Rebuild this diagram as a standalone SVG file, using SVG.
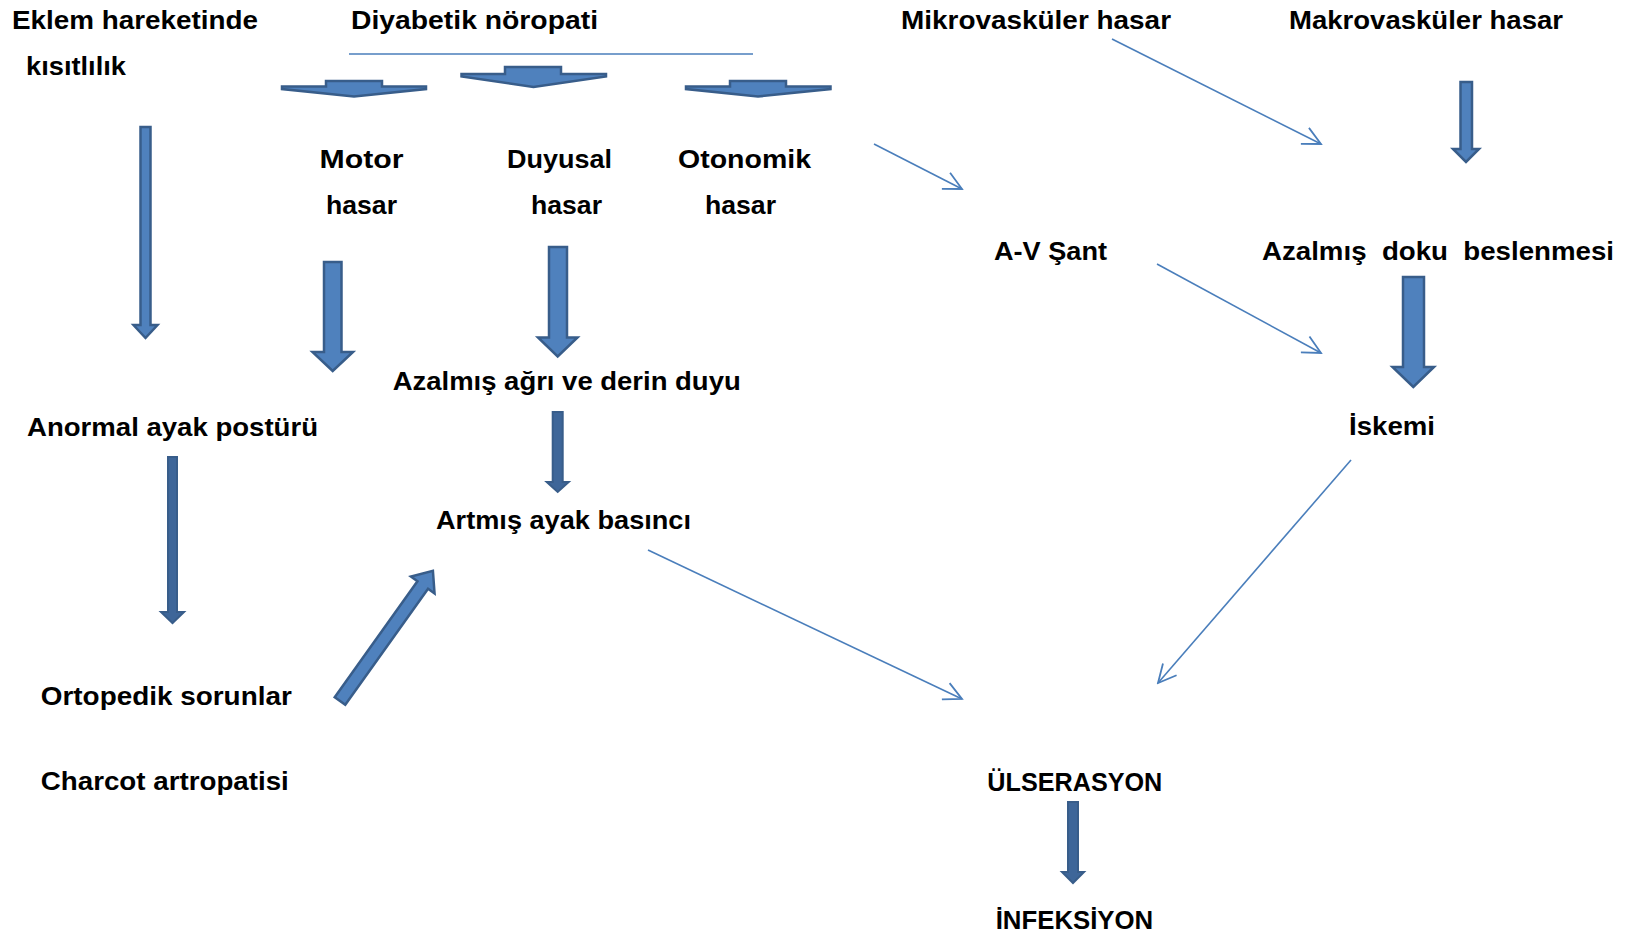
<svg xmlns="http://www.w3.org/2000/svg" width="1626" height="936" viewBox="0 0 1626 936">
<style>
text{font-family:"Liberation Sans",Arial,sans-serif;font-weight:bold;font-size:25px;fill:#000;}
.thin{fill:none;stroke:#4a7ebb;stroke-width:1.6;}
.blk{fill:#4f81bd;stroke:#385d8a;stroke-width:2.5;stroke-linejoin:miter;}
.nar{fill:#3e6699;stroke:#385d8a;stroke-width:2;}
.flat{fill:#4f81bd;stroke:#385d8a;stroke-width:2.5;}
</style>
<defs>
<marker id="open" viewBox="0 0 22 20" markerWidth="22" markerHeight="20" refX="20" refY="10" orient="auto" markerUnits="userSpaceOnUse">
<path d="M2,1 L20,10 L2,19" fill="none" stroke="#4a7ebb" stroke-width="1.8"/>
</marker>
</defs>
<rect width="1626" height="936" fill="#fff"/>
<g id="connectors">
<line class="thin" x1="349" y1="54" x2="753" y2="54"/>
<polygon class="flat" points="326,81 382,81 382,86.5 426,86.5 426,89 354,96.5 282,89 282,86.5 326,86.5"/>
<polygon class="flat" points="505,67 561,67 561,74 606,74 606,76.5 533.5,87 461.5,76.5 461.5,74 505,74"/>
<polygon class="flat" points="730,81 786,81 786,86.5 830.5,86.5 830.5,89 758,96.5 686,89 686,86.5 730,86.5"/>
<polygon class="blk" points="140.5,127 150.5,127 150.5,325 157.5,325 145.5,338 133.5,325 140.5,325"/>
<polygon class="blk" points="324,262 341.5,262 341.5,352 353,352 332.7,371 312.5,352 324,352"/>
<polygon class="blk" points="549,247 567,247 567,337.5 577.5,337.5 557.7,356.5 538,337.5 549,337.5"/>
<polygon class="nar" points="552.7,412 562.7,412 562.7,482 568.7,482 557.7,492 546.7,482 552.7,482"/>
<polygon class="nar" points="168,457 177,457 177,612 184,612 172.5,623 161,612 168,612"/>
<polygon class="blk" points="1460.5,82 1472,82 1472,149 1479,149 1466,162 1453,149 1460.5,149"/>
<polygon class="blk" points="1403,277 1424,277 1424,367 1434,367 1413.3,387 1392.5,367 1403,367"/>
<polygon class="nar" points="1068,802 1078,802 1078,872 1084,872 1073,883 1062,872 1068,872"/>
<polygon class="blk" transform="translate(340,701) rotate(-54.5)" points="0,-6.5 142.5,-6.5 142.5,-14.5 160,0 142.5,14.5 142.5,6.5 0,6.5"/>
<line class="thin" x1="1112" y1="39" x2="1321" y2="144" marker-end="url(#open)"/>
<line class="thin" x1="874" y1="144" x2="962" y2="189" marker-end="url(#open)"/>
<line class="thin" x1="1157" y1="264" x2="1321" y2="353" marker-end="url(#open)"/>
<line class="thin" x1="648" y1="550" x2="962" y2="699" marker-end="url(#open)"/>
<line class="thin" x1="1351" y1="460" x2="1158" y2="683" marker-end="url(#open)"/>
</g>
<g id="eklem"><text x="12" y="29" textLength="246" lengthAdjust="spacingAndGlyphs">Eklem hareketinde</text><text x="26" y="75" textLength="100" lengthAdjust="spacingAndGlyphs">kısıtlılık</text></g>
<g id="diyabetik"><text x="351" y="29" textLength="247" lengthAdjust="spacingAndGlyphs">Diyabetik nöropati</text></g>
<g id="mikro"><text x="901" y="29" textLength="270" lengthAdjust="spacingAndGlyphs">Mikrovasküler hasar</text></g>
<g id="makro"><text x="1289" y="29" textLength="274" lengthAdjust="spacingAndGlyphs">Makrovasküler hasar</text></g>
<g id="motor"><text x="319.5" y="168" textLength="84" lengthAdjust="spacingAndGlyphs">Motor</text><text x="326" y="214" textLength="71" lengthAdjust="spacingAndGlyphs">hasar</text></g>
<g id="duyusal"><text x="507" y="168" textLength="105" lengthAdjust="spacingAndGlyphs">Duyusal</text><text x="531" y="214" textLength="71" lengthAdjust="spacingAndGlyphs">hasar</text></g>
<g id="otonomik"><text x="678" y="168" textLength="133" lengthAdjust="spacingAndGlyphs">Otonomik</text><text x="705" y="214" textLength="71" lengthAdjust="spacingAndGlyphs">hasar</text></g>
<g id="avsant"><text x="994" y="260" textLength="113" lengthAdjust="spacingAndGlyphs">A-V Şant</text></g>
<g id="doku"><text x="1262" y="260" textLength="352" lengthAdjust="spacingAndGlyphs" xml:space="preserve" style="white-space:pre">Azalmış  doku  beslenmesi</text></g>
<g id="agri"><text x="392.7" y="390" textLength="348" lengthAdjust="spacingAndGlyphs">Azalmış ağrı ve derin duyu</text></g>
<g id="anormal"><text x="27" y="436" textLength="291" lengthAdjust="spacingAndGlyphs">Anormal ayak postürü</text></g>
<g id="iskemi"><text x="1349" y="435" textLength="86" lengthAdjust="spacingAndGlyphs">İskemi</text></g>
<g id="artmis"><text x="436" y="529" textLength="255" lengthAdjust="spacingAndGlyphs">Artmış ayak basıncı</text></g>
<g id="ortopedik"><text x="40.8" y="705" textLength="251" lengthAdjust="spacingAndGlyphs">Ortopedik sorunlar</text></g>
<g id="charcot"><text x="40.8" y="790" textLength="248" lengthAdjust="spacingAndGlyphs">Charcot artropatisi</text></g>
<g id="ulserasyon"><text x="987.3" y="791" textLength="175" lengthAdjust="spacingAndGlyphs">ÜLSERASYON</text></g>
<g id="infeksiyon"><text x="995.7" y="929" textLength="157.5" lengthAdjust="spacingAndGlyphs">İNFEKSİYON</text></g>
</svg>
